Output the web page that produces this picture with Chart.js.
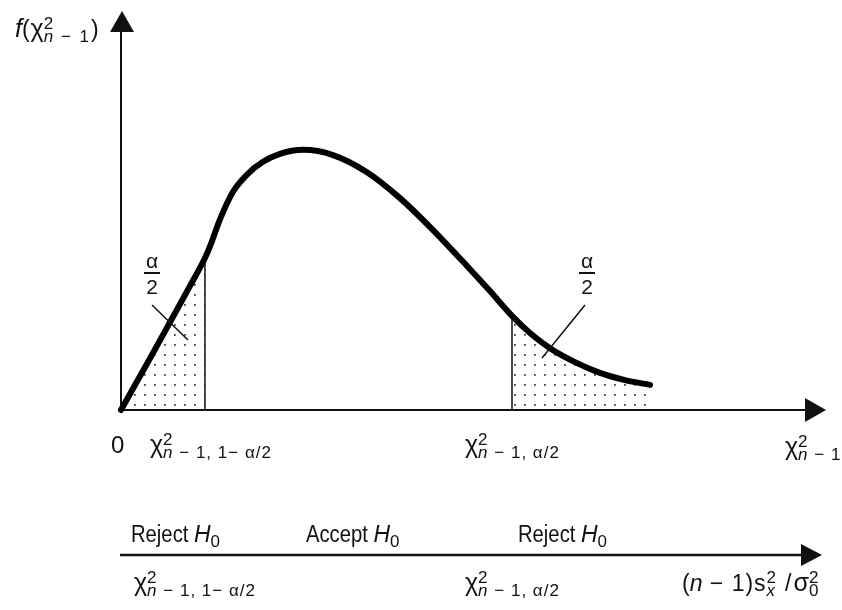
<!DOCTYPE html>
<html lang="en">
<head>
<meta charset="UTF-8">
<title>Chi-square two-tailed test</title>
<style>
  html, body { margin: 0; padding: 0; background: #fff; }
  #wrap { width: 842px; height: 610px; }
</style>
</head>
<body>
<div id="wrap"><canvas id="chiChart" width="842" height="610"></canvas></div>
<script src="https://cdn.jsdelivr.net/npm/chart.js"></script>
<script>
// density curve
const curveX = [0, 0.369, 0.695, 0.979, 1.191, 1.262, 1.404, 1.589, 1.787, 2.014, 2.255, 2.582, 3.007, 3.489, 3.957, 4.426, 4.908, 5.234, 5.546, 5.801, 6.085, 6.440, 6.794, 7.149, 7.504];
const curveY = [0, 0.116, 0.220, 0.311, 0.381, 0.410, 0.478, 0.547, 0.590, 0.622, 0.642, 0.652, 0.639, 0.596, 0.531, 0.451, 0.361, 0.298, 0.236, 0.193, 0.155, 0.120, 0.093, 0.075, 0.063];
// critical values (lower / upper) and curve height there
const critLow = 1.191;
const critHigh = 5.546;
const critLowY = 0.381;
const critHighY = 0.236;
// axis range
const xMax = 10;
const yMax = 1;

const INK = '#111';
const FAM = '"Liberation Sans", "DejaVu Sans", sans-serif';
const BASE = 23, SMALL = 17;

function pts(lo, hi) {
    const out = [];
    curveX.forEach((x, i) => { if (x >= lo && x <= hi) out.push({ x: x, y: curveY[i] }); });
    return out;
}

// sparse dots for the tail areas
function dotPattern() {
    const c = document.createElement('canvas');
    c.width = 10; c.height = 10;
    const g = c.getContext('2d');
    g.fillStyle = '#444';
    g.fillRect(4, 4, 1.8, 1.8);
    return g.createPattern(c, 'repeat');
}

function font(size, italic) { return (italic ? 'italic ' : '') + size + 'px ' + FAM; }

// draws text with sub / superscripts
function rich(ctx, x, y, parts) {
    parts.forEach(p => {
        ctx.letterSpacing = (p.ls || 0) + 'px';
        if (p.gap) {
            x += p.gap;
        } else if (p.stack) {
            ctx.font = font(SMALL, false);
            const w1 = ctx.measureText(p.stack[0]).width;
            ctx.fillText(p.stack[0], x, y - 8);
            ctx.font = font(SMALL, p.it);
            const w2 = ctx.measureText(p.stack[1]).width;
            ctx.fillText(p.stack[1], x, y + 5);
            x += Math.max(w1, w2) + 1;
        } else {
            const size = p.sub ? SMALL : (p.size || BASE);
            const k = p.cx || 1;
            ctx.font = font(size, p.it);
            ctx.save();
            ctx.translate(x, y + (p.sub ? 5 : 0));
            ctx.scale(k, 1);
            ctx.fillText(p.t, 0, 0);
            ctx.restore();
            x += ctx.measureText(p.t).width * k;
        }
    });
    ctx.letterSpacing = '0px';
    return x;
}

const chiLow = [{ t: 'χ', size: 25 }, { stack: ['2', 'n'], it: true }, { t: ' − 1, 1− α/2', sub: true, ls: 1 }];
const chiHigh = [{ t: 'χ', size: 25 }, { stack: ['2', 'n'], it: true }, { t: ' − 1, α/2', sub: true, ls: 1 }];
const chiAxis = [{ t: 'χ', size: 25 }, { stack: ['2', 'n'], it: true }, { t: ' − 1', sub: true, ls: 1 }];
const fLabel = [{ t: 'f', it: true, size: 25 }, { t: '(', ls: 1 }, { t: 'χ', size: 25 }, { stack: ['2', 'n'], it: true }, { t: ' − 1', sub: true, ls: 2 }, { t: ')' }];
const reject = [{ t: 'Reject ', cx: 0.88 }, { t: 'H', it: true }, { t: '0', sub: true }];
const accept = [{ t: 'Accept ', cx: 0.88 }, { t: 'H', it: true }, { t: '0', sub: true }];
const statLabel = [{ t: '(' }, { t: 'n', it: true }, { t: ' − 1)s', ls: 1 }, { stack: ['2', 'x'], it: true }, { gap: 8 },
                   { t: '/', ls: 2 }, { t: 'σ', size: 25 }, { stack: ['2', '0'] }];

function arrow(ctx, tipX, tipY, dir, len, half) {
    ctx.beginPath();
    if (dir === 'up') {
        ctx.moveTo(tipX, tipY);
        ctx.lineTo(tipX - half, tipY + len);
        ctx.lineTo(tipX + half, tipY + len);
    } else {
        ctx.moveTo(tipX, tipY);
        ctx.lineTo(tipX - len, tipY - half);
        ctx.lineTo(tipX - len, tipY + half);
    }
    ctx.closePath();
    ctx.fill();
}

function halfFrac(ctx, cx) {
    ctx.font = font(21, false);
    ctx.textAlign = 'center';
    ctx.fillText('α', cx, 268);
    ctx.fillText('2', cx, 294);
    ctx.textAlign = 'left';
    ctx.fillRect(cx - 8, 272, 16, 2);
}

const decorations = {
    id: 'decorations',
    beforeDatasetsDraw(chart) {
        const ctx = chart.ctx;
        const a = chart.chartArea;
        const sx = chart.scales.x, sy = chart.scales.y;
        const x0 = sx.getPixelForValue(0), y0 = sy.getPixelForValue(0);
        ctx.save();
        ctx.strokeStyle = INK;
        ctx.fillStyle = INK;
        ctx.lineWidth = 2;
        ctx.beginPath();
        ctx.moveTo(x0, y0); ctx.lineTo(x0, a.top + 20);
        ctx.moveTo(x0, y0); ctx.lineTo(a.right - 20, y0);
        ctx.stroke();
        arrow(ctx, x0 + 1, a.top, 'up', 21, 12);
        arrow(ctx, a.right, y0, 'right', 21, 12);
        ctx.restore();
    },
    afterDatasetsDraw(chart) {
        const ctx = chart.ctx;
        const a = chart.chartArea;
        const sx = chart.scales.x;
        ctx.save();
        ctx.fillStyle = INK;
        ctx.strokeStyle = INK;
        ctx.textBaseline = 'alphabetic';

        // main axis labels
        ctx.font = font(24, false);
        ctx.fillText('0', sx.getPixelForValue(0) - 10, 453);
        rich(ctx, sx.getPixelForValue(critLow) - 55, 453, chiLow);
        rich(ctx, sx.getPixelForValue(critHigh) - 47, 453, chiHigh);
        rich(ctx, 785, 455, chiAxis);
        rich(ctx, 15, 37, fLabel);

        // alpha / 2 tags with leaders
        halfFrac(ctx, 152);
        halfFrac(ctx, 587);
        ctx.lineWidth = 1.5;
        ctx.beginPath();
        ctx.moveTo(152, 305); ctx.lineTo(188, 340);
        ctx.moveTo(585, 305); ctx.lineTo(542, 358);
        ctx.stroke();

        // decision axis
        const by = a.bottom + 145;
        ctx.lineWidth = 2.5;
        ctx.beginPath();
        ctx.moveTo(120, by); ctx.lineTo(802, by);
        ctx.stroke();
        arrow(ctx, 822, by, 'right', 21, 11);
        rich(ctx, 131, 542, reject);
        rich(ctx, 306, 542, accept);
        rich(ctx, 518, 542, reject);
        rich(ctx, 134, 591, chiLow);
        rich(ctx, sx.getPixelForValue(critHigh) - 47, 591, chiHigh);
        rich(ctx, 682, 591, statLabel);
        ctx.restore();
    }
};

const pattern = dotPattern();

new Chart(document.getElementById('chiChart'), {
    type: 'scatter',
    data: {
        datasets: [
            { data: pts(0, 10), showLine: true, borderColor: '#000', borderWidth: 6, cubicInterpolationMode: 'monotone',
              pointRadius: 0, fill: false, clip: false, borderCapStyle: 'round' },
            { data: [{ x: critLow, y: 0 }, { x: critLow, y: critLowY }], showLine: true, borderColor: INK,
              borderWidth: 1.5, pointRadius: 0, fill: false },
            { data: [{ x: critHigh, y: 0 }, { x: critHigh, y: critHighY }], showLine: true, borderColor: INK,
              borderWidth: 1.5, pointRadius: 0, fill: false },
            { data: pts(0, critLow), showLine: true, borderWidth: 0, cubicInterpolationMode: 'monotone', pointRadius: 0,
              fill: 'origin', backgroundColor: pattern },
            { data: pts(critHigh, 10), showLine: true, borderWidth: 0, cubicInterpolationMode: 'monotone', pointRadius: 0,
              fill: 'origin', backgroundColor: pattern }
        ]
    },
    options: {
        responsive: false,
        animation: false,
        layout: { padding: { left: 121, top: 11, right: 16, bottom: 200 } },
        plugins: { legend: { display: false }, tooltip: { enabled: false } },
        scales: {
            x: { type: 'linear', min: 0, max: xMax, display: false },
            y: { type: 'linear', min: 0, max: yMax, display: false }
        }
    },
    plugins: [decorations]
});
</script>
</body>
</html>
